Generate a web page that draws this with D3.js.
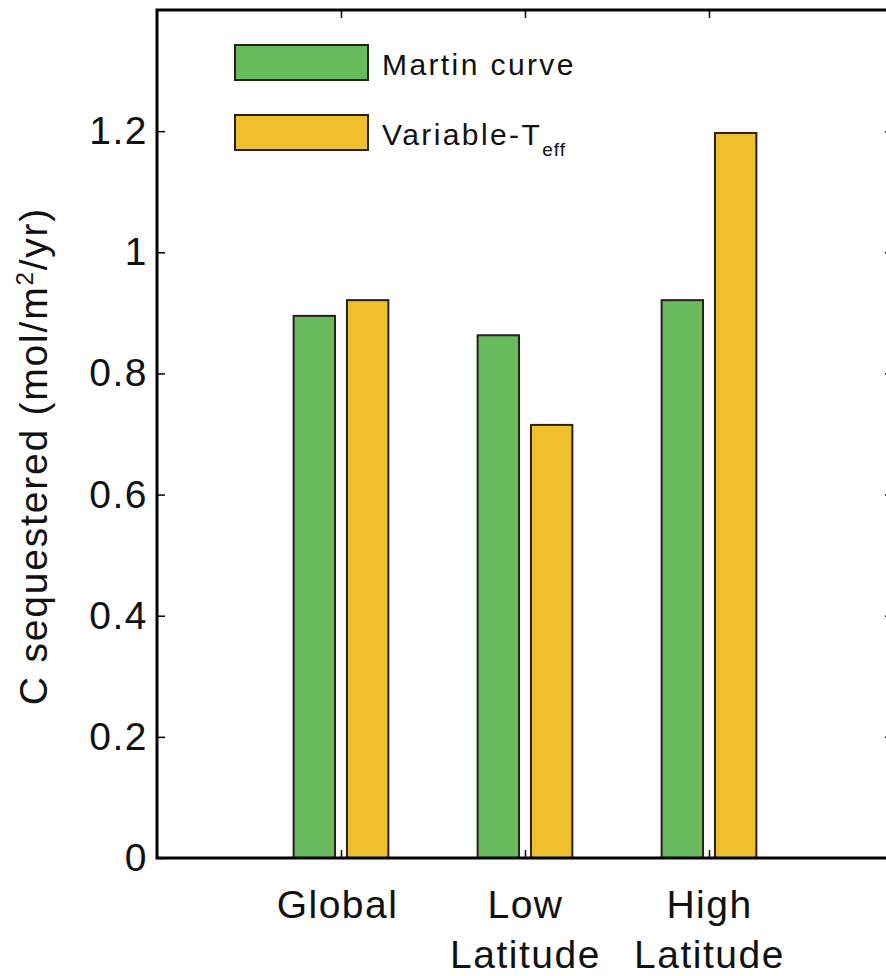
<!DOCTYPE html>
<html><head><meta charset="utf-8">
<script src="https://cdn.jsdelivr.net/npm/d3@7"></script>
<style>body{margin:0;background:#fff}svg{display:block}text{font-family:"Liberation Sans",Arial,sans-serif;fill:#111}</style>
</head><body><svg id="c" width="886" height="976"></svg>
<script>
const categories = [["Global"], ["Low", "Latitude"], ["High", "Latitude"]];
const seriesNames = ["Martin curve", "Variable-T"];
const martin = [0.895, 0.863, 0.921];
const variableTeff = [0.921, 0.715, 1.197];
const yTicks = [0, 0.2, 0.4, 0.6, 0.8, 1, 1.2];
const yTickLabels = ["0", "0.2", "0.4", "0.6", "0.8", "1", "1.2"];
const colors = ["#67bb5d", "#f0bf2e"];

const svg = d3.select("#c");
const x = d3.scaleLinear().domain([0, 4]).range([157, 893]);
const y = d3.scaleLinear().domain([0, 1.4]).range([858, 10]);

const barW = 0.225, off = 0.145;
const series = [martin, variableTeff];
series.forEach((vals, s) => {
  svg.append("g").selectAll("rect").data(vals).join("rect")
    .attr("x", (d, i) => x(i + 1 + (s === 0 ? -off : off) - barW / 2))
    .attr("width", x(barW) - x(0))
    .attr("y", d => y(d))
    .attr("height", d => y(0) - y(d))
    .attr("fill", colors[s]).attr("stroke", "#2a201a").attr("stroke-width", 2);
});

// frame
const frame = svg.append("g");
frame.append("rect").attr("x", x(0)).attr("y", y(1.4)).attr("width", x(4) - x(0)).attr("height", y(0) - y(1.4))
  .attr("fill", "none").attr("stroke", "#000").attr("stroke-width", 3);

// left axis
const yAxis = d3.axisLeft(y).tickValues(yTicks).tickFormat((d, i) => yTickLabels[i]).tickSize(-8).tickPadding(9);
const gy = svg.append("g").attr("transform", `translate(${x(0)},0)`).call(yAxis);
gy.select(".domain").remove();
gy.selectAll("line").attr("stroke", "#000").attr("stroke-width", 1.5);
gy.selectAll("text").attr("font-size", 39).attr("letter-spacing", 1.5).attr("fill", "#111")
  .style("font-family", '"Liberation Sans",Arial,sans-serif');

// right axis ticks
const yAxisR = d3.axisRight(y).tickValues(yTicks).tickFormat("").tickSize(-8);
const gyr = svg.append("g").attr("transform", `translate(${x(4)},0)`).call(yAxisR);
gyr.select(".domain").remove();
gyr.selectAll("line").attr("stroke", "#000").attr("stroke-width", 1.5);

// bottom axis
const xAxis = d3.axisBottom(x).tickValues([1, 2, 3]).tickFormat("").tickSize(-8);
const gx = svg.append("g").attr("transform", `translate(0,${y(0)})`).call(xAxis);
gx.select(".domain").remove();
gx.selectAll("line").attr("stroke", "#000").attr("stroke-width", 1.5);
gx.selectAll(".tick").each(function(d, i) {
  const t = d3.select(this).append("text").attr("text-anchor", "middle")
    .attr("font-size", 39).attr("letter-spacing", 1.5).attr("fill", "#111")
    .style("font-family", '"Liberation Sans",Arial,sans-serif');
  categories[i].forEach((line, k) => {
    t.append("tspan").attr("x", i === 0 ? -4 : 0).attr("y", 60 + k * 50).text(line);
  });
});

// top ticks
const xAxisT = d3.axisTop(x).tickValues([1, 2, 3]).tickFormat("").tickSize(-8);
const gxt = svg.append("g").attr("transform", `translate(0,${y(1.4)})`).call(xAxisT);
gxt.select(".domain").remove();
gxt.selectAll("line").attr("stroke", "#000").attr("stroke-width", 1.5);

// y label
svg.append("text").attr("transform", `translate(47,456) rotate(-90)`).attr("text-anchor", "middle")
  .attr("font-size", 39).attr("letter-spacing", 1.8)
  .html('C sequestered (mol/m<tspan dy="-14" font-size="24">2</tspan><tspan dy="14">/yr)</tspan>');

// legend
const leg = svg.append("g");
const legY = [45, 115];
seriesNames.forEach((n, i) => {
  leg.append("rect").attr("x", 235).attr("y", legY[i]).attr("width", 133).attr("height", 35)
    .attr("fill", colors[i]).attr("stroke", "#2a201a").attr("stroke-width", 2);
  const t = leg.append("text").attr("x", 382).attr("y", legY[i] + 30).attr("font-size", 30).attr("letter-spacing", 2.4).text(n);
  if (i === 1) t.append("tspan").attr("dy", 11).attr("font-size", 19).attr("letter-spacing", 1).text("eff");
});
</script></body></html>
